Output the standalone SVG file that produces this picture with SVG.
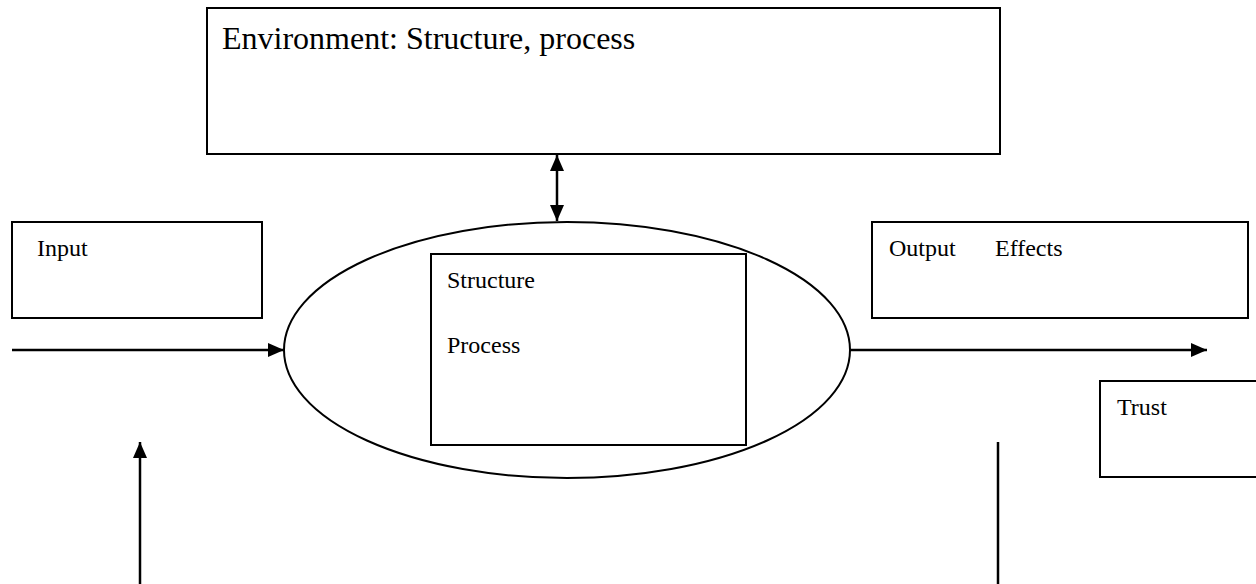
<svg xmlns="http://www.w3.org/2000/svg" width="1256" height="584" viewBox="0 0 1256 584">
<defs>
<style>
.box{fill:#fff;stroke:#000;stroke-width:2}
.lbl{font-family:"Liberation Serif","Times New Roman",serif;font-size:24px;fill:#000}
.big{font-size:32px}
.con{stroke:#000;stroke-width:2.5;fill:none}
</style>
<marker id="ah" markerUnits="userSpaceOnUse" markerWidth="16" markerHeight="14" viewBox="0 0 16 14" refX="16" refY="7" orient="auto-start-reverse">
<path d="M0,0 L16,7 L0,14 Z" fill="#000"/>
</marker>
</defs>
<rect width="1256" height="584" fill="#fff"/>
<g id="environment">
<rect class="box" x="207" y="8" width="793" height="146"/>
<text class="lbl big" x="222" y="49">Environment: Structure, process</text>
</g>
<g id="input">
<rect class="box" x="12" y="222" width="250" height="96"/>
<text class="lbl" x="37" y="256">Input</text>
</g>
<g id="system">
<ellipse class="box" cx="567" cy="350" rx="283" ry="128"/>
<rect class="box" x="431" y="254" width="315" height="191"/>
<text class="lbl" x="447" y="288">Structure</text>
<text class="lbl" x="447" y="353">Process</text>
</g>
<g id="output">
<rect class="box" x="872" y="222" width="376" height="96"/>
<text class="lbl" x="889" y="256">Output</text>
<text class="lbl" x="995" y="256">Effects</text>
</g>
<g id="trust">
<rect class="box" x="1100" y="381" width="170" height="96"/>
<text class="lbl" x="1117" y="415">Trust</text>
</g>
<g id="connectors">
<line class="con" x1="557" y1="155" x2="557" y2="221" marker-start="url(#ah)" marker-end="url(#ah)"/>
<line class="con" x1="12" y1="350" x2="284" y2="350" marker-end="url(#ah)"/>
<line class="con" x1="850" y1="350" x2="1207" y2="350" marker-end="url(#ah)"/>
<line class="con" x1="140" y1="584" x2="140" y2="442" marker-end="url(#ah)"/>
<line class="con" x1="998" y1="442" x2="998" y2="584"/>
</g>
</svg>
